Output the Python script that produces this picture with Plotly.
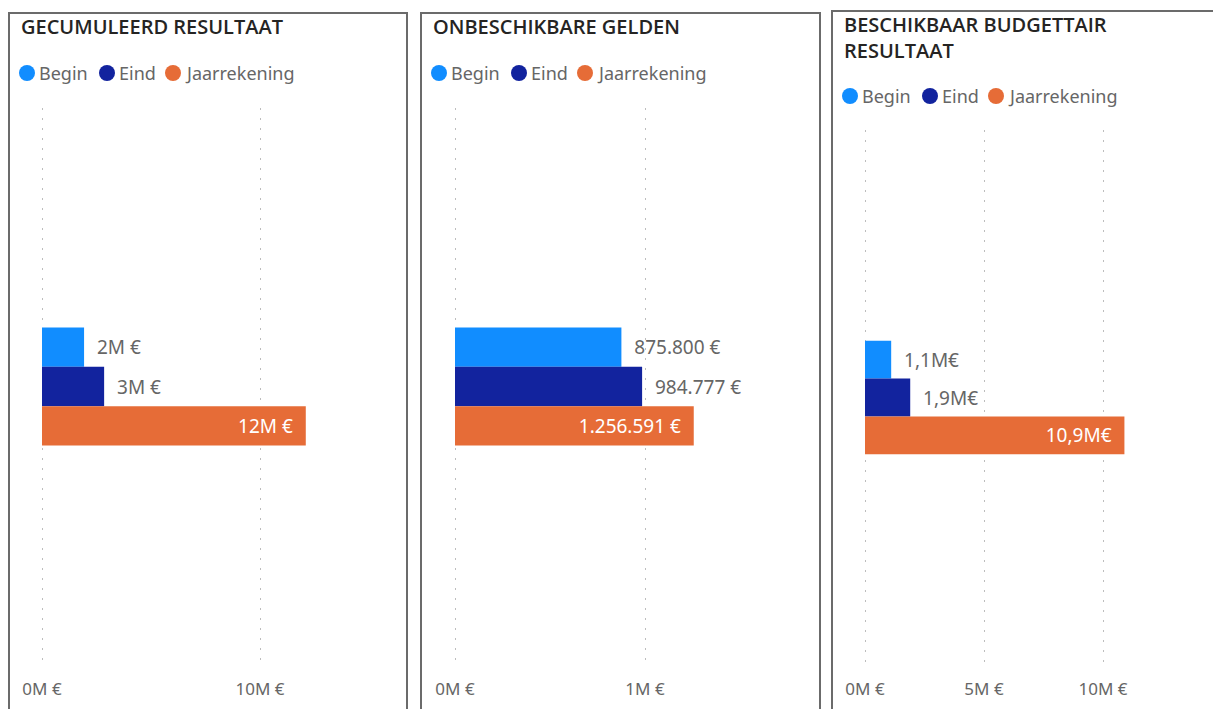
import plotly.graph_objects as go

# page body adds an 8px margin; figure coordinates = reference coordinates - OFF
OFF = 8
W, H = 1221 - OFF, 709 - OFF

series = ["Begin", "Eind", "Jaarrekening"]
colors = ["#118DFF", "#12239E", "#E66C37"]

titles = ["GECUMULEERD RESULTAAT", "ONBESCHIKBARE GELDEN", "BESCHIKBAAR BUDGETTAIR<br>RESULTAAT"]

vals_1 = [1.93e6, 2.85e6, 12.1e6]
labels_1 = ["2M €", "3M €", "12M €"]
vals_2 = [875800, 984777, 1256591]
labels_2 = ["875.800 €", "984.777 €", "1.256.591 €"]
vals_3 = [1.1e6, 1.9e6, 10.9e6]
labels_3 = ["1,1M€", "1,9M€", "10,9M€"]

ticks_1 = [0, 10e6]
ticktext_1 = ["0M €", "10M €"]
ticks_2 = [0, 1e6]
ticktext_2 = ["0M €", "1M €"]
ticks_3 = [0, 5e6, 10e6]
ticktext_3 = ["0M €", "5M €", "10M €"]

panels = [
    dict(vals=vals_1, labels=labels_1, ticks=ticks_1, ticktext=ticktext_1,
         z=42, x1=400, ppu=21.8e-6, ytop=108, ybot=665, bargap=0.788,
         box=(9, 407, 13), title_y=27, leg_y=73),
    dict(vals=vals_2, labels=labels_2, ticks=ticks_2, ticktext=ticktext_2,
         z=455, x1=810, ppu=190e-6, ytop=108, ybot=665, bargap=0.788,
         box=(421, 820, 13), title_y=27, leg_y=73),
    dict(vals=vals_3, labels=labels_3, ticks=ticks_3, ticktext=ticktext_3,
         z=865, x1=1205, ppu=23.8e-6, ytop=130, ybot=665, bargap=0.789,
         box=(832, 1260, 11), title_y=38, leg_y=96),
]

def px(x):
    return (x - OFF) / W

def py(y):
    return (H - (y - OFF)) / H

fig = go.Figure()
shapes = []
annotations = []
NB = "\u00a0"

for i, p in enumerate(panels):
    ax = "" if i == 0 else str(i + 1)
    for j, s in enumerate(series):
        inside = (j == 2)
        txt = [(p["labels"][j] + NB * 2) if inside else (NB * 2 + p["labels"][j])]
        fig.add_trace(go.Bar(
            x=[p["vals"][j]], y=["cat"], orientation="h", name=s,
            marker=dict(color=colors[j], line=dict(width=0)),
            text=txt, textposition="inside" if inside else "outside",
            insidetextanchor="end",
            textfont=dict(color="white" if inside else "#666666", size=19,
                          family="Noto Sans"),
            constraintext="none", cliponaxis=False, showlegend=False,
            xaxis="x" + ax, yaxis="y" + ax, hoverinfo="skip",
        ))
    pad = 4
    xlo = -pad / p["ppu"]
    xhi = (p["x1"] - p["z"]) / p["ppu"]
    fig.update_layout(**{
        "xaxis" + ax: dict(
            domain=[px(p["z"] - pad), px(p["x1"])], range=[xlo, xhi], anchor="y" + ax,
            tickvals=p["ticks"], ticktext=p["ticktext"], showgrid=True,
            gridcolor="#bdbdbd", griddash="2px,8px", gridwidth=1.2, zeroline=False,
            showline=False, ticks="", ticklabelstandoff=12, automargin=False,
            tickfont=dict(family="Noto Sans", size=17, color="#666666"),
            fixedrange=True),
        "yaxis" + ax: dict(
            domain=[py(p["ybot"]), py(p["ytop"])], anchor="x" + ax,
            showticklabels=False, showgrid=False, zeroline=False, automargin=False,
            range=[0.5, -0.5], fixedrange=True),
    })
    bx0, bx1, by = p["box"]
    shapes.append(dict(type="rect", xref="paper", yref="paper",
                       x0=px(bx0), x1=px(bx1), y0=py(740), y1=py(by),
                       line=dict(color="#6b6b6b", width=2), layer="above"))
    annotations.append(dict(text=titles[i], xref="paper", yref="paper",
                            x=px(bx0 + 10), y=py(p["title_y"]),
                            xanchor="left", yanchor="middle", showarrow=False,
                            align="left",
                            font=dict(family="Open Sans", size=20, color="#252423",
                                      weight=600)))
    # legend
    lx = bx0 + 18
    cy = p["leg_y"]
    for j, s in enumerate(series):
        shapes.append(dict(type="circle", xref="paper", yref="paper",
                           x0=px(lx - 8), x1=px(lx + 8),
                           y0=py(cy + 8), y1=py(cy - 8),
                           fillcolor=colors[j], line=dict(width=0)))
        annotations.append(dict(text=s, xref="paper", yref="paper",
                                x=px(lx + 10), y=py(cy),
                                xanchor="left", yanchor="middle", showarrow=False,
                                font=dict(family="Noto Sans", size=18, color="#666666")))
        lx += [80, 66, 0][j]

fig.update_layout(
    width=W, height=H, autosize=False,
    margin=dict(l=0, r=0, t=0, b=0, autoexpand=False),
    paper_bgcolor="white", plot_bgcolor="white",
    barmode="group", bargap=0.788, bargroupgap=0,
    shapes=shapes, annotations=annotations, showlegend=False,
    font=dict(family="Noto Sans"),
)
# per-panel bar gap (panel 3 band differs slightly); layout bargap applies to all
fig.update_layout(bargap=0.788)

fig.write_html("out.html")
